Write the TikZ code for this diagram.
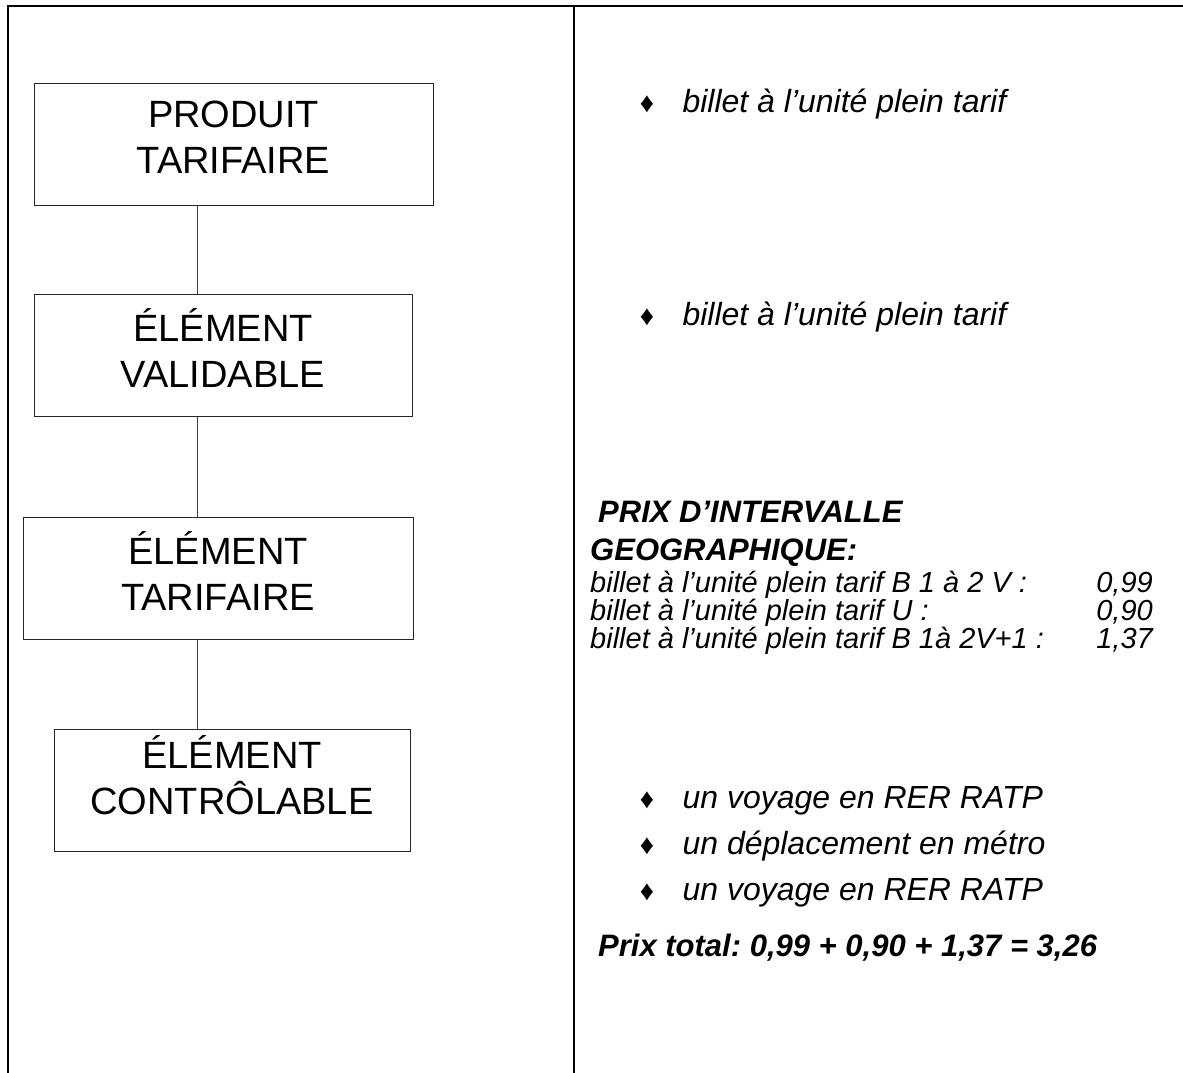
\documentclass[tikz,border=0pt]{standalone}
\usepackage{fontspec}
\setmainfont{Liberation Sans}
\usetikzlibrary{positioning}
\frenchspacing

\begin{document}
\begin{tikzpicture}[
    x=1pt, y=-1pt,
    level/.style={draw=black!85, line width=1pt, align=center, inner sep=0pt, minimum height=122pt, text depth=14pt, font=\fontsize{38}{46}\selectfont},
    link/.style={draw=black!75, line width=1pt},
    frame/.style={line width=2.2pt},
    tick/.style={anchor=base, inner sep=0pt, font=\fontsize{28}{30}\selectfont},
    item/.style={anchor=base west, inner sep=0pt, font=\fontsize{32}{38}\selectfont\itshape},
    price/.style={anchor=base west, inner sep=0pt, font=\fontsize{29}{34}\selectfont\itshape},
    amount/.style={anchor=base east, inner sep=0pt, font=\fontsize{29}{34}\selectfont\itshape},
    heading/.style={anchor=base west, inner sep=0pt, font=\fontsize{31}{38}\selectfont\bfseries\itshape}
]
\useasboundingbox (0,0) rectangle (1183,1073);

% cadre
\draw[frame] (8,1073) -- (8,6) -- (1183,6);
\draw[frame] (574,6) -- (574,1073);

% niveaux
\node[level, minimum width=399pt] (produit) at (233.5,144) {PRODUIT\\TARIFAIRE};
\node[level, minimum width=378pt] (validable) at (223,355.5) {ÉLÉMENT\\VALIDABLE};
\node[level, minimum width=390pt] (tarifaire) at (218,578) {ÉLÉMENT\\TARIFAIRE};
\node[level, minimum width=356pt, text depth=30pt] (controlable) at (232,790) {ÉLÉMENT\\CONTRÔLABLE};

\coordinate (spine) at (197,0);
\foreach \a/\b in {produit/validable, validable/tarifaire, tarifaire/controlable}
    \draw[link] (\a.south -| spine) -- (\b.north -| spine);

% exemples
\node[tick] (d1) at (647,112) {♦};
\node[item, base right=28pt of d1] (ex1) {billet à l’unité plein tarif};
\node[tick] (d2) at (647,325) {♦};
\node[item, base right=28pt of d2] (ex2) {billet à l’unité plein tarif};

\node[heading] (prix) at (598,522) {PRIX D’INTERVALLE};
\node[heading] (geo) at (590,560) {GEOGRAPHIQUE:};
\foreach \t/\m [count=\i] in {{billet à l’unité plein tarif B 1 à 2 V :}/{0,99},
    {billet à l’unité plein tarif U :}/{0,90},
    {billet à l’unité plein tarif B 1à 2V+1 :}/{1,37}} {
    \node[price] (ligne\i) at (590,564+28*\i) {\t};
    \node[amount] (montant\i) at (1153,564+28*\i) {\m};
}

\foreach \t [count=\i] in {un voyage en RER RATP, un déplacement en métro, un voyage en RER RATP} {
    \node[tick] (e\i) at (647,762+46*\i) {♦};
    \node[item, base right=28pt of e\i] (trajet\i) {\t};
}

\node[heading] (total) at (598,956) {Prix total: 0,99 + 0,90 + 1,37 = 3,26};
\end{tikzpicture}
\end{document}
